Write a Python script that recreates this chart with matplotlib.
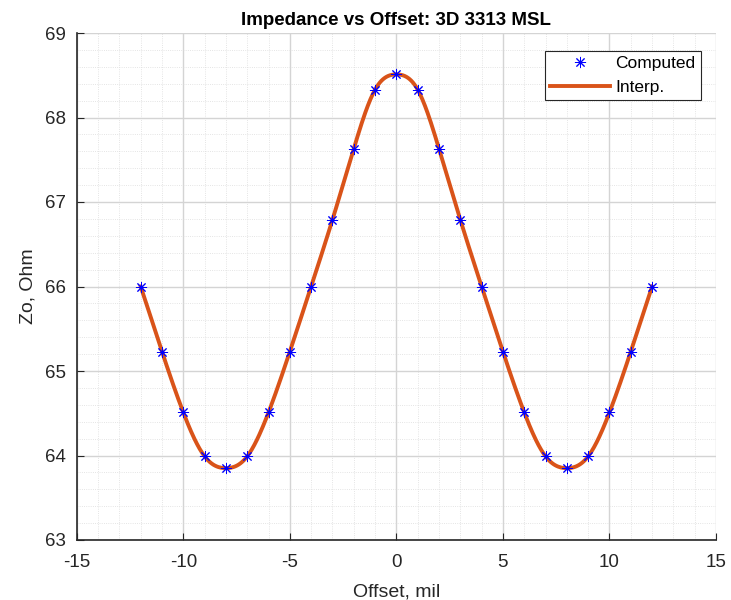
import numpy as np
import matplotlib
matplotlib.use("Agg")
import matplotlib.pyplot as plt
from matplotlib.ticker import MultipleLocator

# Computed impedance vs trace offset
offset_mil = [-12, -11, -10, -9, -8, -7, -6, -5, -4, -3, -2, -1, 0,
              1, 2, 3, 4, 5, 6, 7, 8, 9, 10, 11, 12]
zo_ohm = [66.00, 65.23, 64.51, 63.99, 63.85, 63.99, 64.51, 65.23, 66.00,
          66.79, 67.63, 68.33, 68.51,
          68.33, 67.63, 66.79, 66.00, 65.23, 64.51, 63.99, 63.85, 63.99,
          64.51, 65.23, 66.00]


def notaknot_spline(x, y, xq):
    """Cubic spline with not-a-knot end conditions."""
    x = np.asarray(x, float)
    y = np.asarray(y, float)
    n = len(x)
    h = np.diff(x)
    d = np.diff(y) / h
    A = np.zeros((n, n))
    b = np.zeros(n)
    A[0, 0] = h[1]
    A[0, 1] = -(h[0] + h[1])
    A[0, 2] = h[0]
    for i in range(1, n - 1):
        A[i, i - 1] = h[i - 1]
        A[i, i] = 2 * (h[i - 1] + h[i])
        A[i, i + 1] = h[i]
        b[i] = 6 * (d[i] - d[i - 1])
    A[-1, -3] = h[-1]
    A[-1, -2] = -(h[-2] + h[-1])
    A[-1, -1] = h[-2]
    M = np.linalg.solve(A, b)
    idx = np.clip(np.searchsorted(x, xq) - 1, 0, n - 2)
    x0, x1 = x[idx], x[idx + 1]
    hh = x1 - x0
    t0 = x1 - xq
    t1 = xq - x0
    return (M[idx] * t0 ** 3 / (6 * hh) + M[idx + 1] * t1 ** 3 / (6 * hh)
            + (y[idx] / hh - M[idx] * hh / 6) * t0
            + (y[idx + 1] / hh - M[idx + 1] * hh / 6) * t1)


x_fine = np.linspace(min(offset_mil), max(offset_mil), 600)
zo_fine = notaknot_spline(offset_mil, zo_ohm, x_fine)

plt.rcParams['font.family'] = ['Liberation Sans', 'DejaVu Sans']
plt.rcParams['axes.unicode_minus'] = False

fig = plt.figure(figsize=(7.31, 6.0), dpi=100)
ax = fig.add_axes([0.105, 0.1, 0.8745, 0.845])

asterisk = (8, 2, 0)
ax.plot(offset_mil, zo_ohm, linestyle='none', marker=asterisk,
        color='#0000ff', markersize=8, markeredgewidth=0.7,
        label='Computed', zorder=4)
ax.plot(x_fine, zo_fine, color='#d95319', linewidth=2.8, label='Interp.',
        zorder=3)

ax.set_xlim(-15, 15)
ax.set_ylim(63, 69)
ax.xaxis.set_major_locator(MultipleLocator(5))
ax.xaxis.set_minor_locator(MultipleLocator(1))
ax.yaxis.set_major_locator(MultipleLocator(1))
ax.yaxis.set_minor_locator(MultipleLocator(0.2))

ax.grid(which='major', color='#d4d4d4', linewidth=1.0)
ax.grid(which='minor', color='#dcdcdc', linewidth=0.6, linestyle=':')
ax.set_axisbelow(True)

for side in ('top', 'right'):
    ax.spines[side].set_visible(False)
for side in ('left', 'bottom'):
    ax.spines[side].set_color('#262626')
    ax.spines[side].set_linewidth(1.2)

ax.tick_params(which='major', direction='in', length=5, width=0.8,
               colors='#262626', labelsize=13.5)
ax.tick_params(axis='x', pad=10)
ax.tick_params(axis='y', pad=8)
ax.tick_params(which='minor', length=0)

ax.set_xlabel('Offset, mil', fontsize=14, color='#262626', labelpad=9)
ax.set_ylabel('Zo, Ohm', fontsize=14, color='#262626', labelpad=6)
ax.set_title('Impedance vs Offset: 3D 3313 MSL', fontsize=13.5,
             fontweight='bold', pad=6)

leg = ax.legend(loc='upper right', bbox_to_anchor=(0.976, 0.965),
                fontsize=12.5, frameon=True, fancybox=False, framealpha=1,
                edgecolor='#262626', borderpad=0.3, handlelength=3.45,
                handletextpad=0.3, labelspacing=0.5, borderaxespad=0)
leg.get_frame().set_linewidth(0.8)

fig.savefig('out.png', dpi=100)
